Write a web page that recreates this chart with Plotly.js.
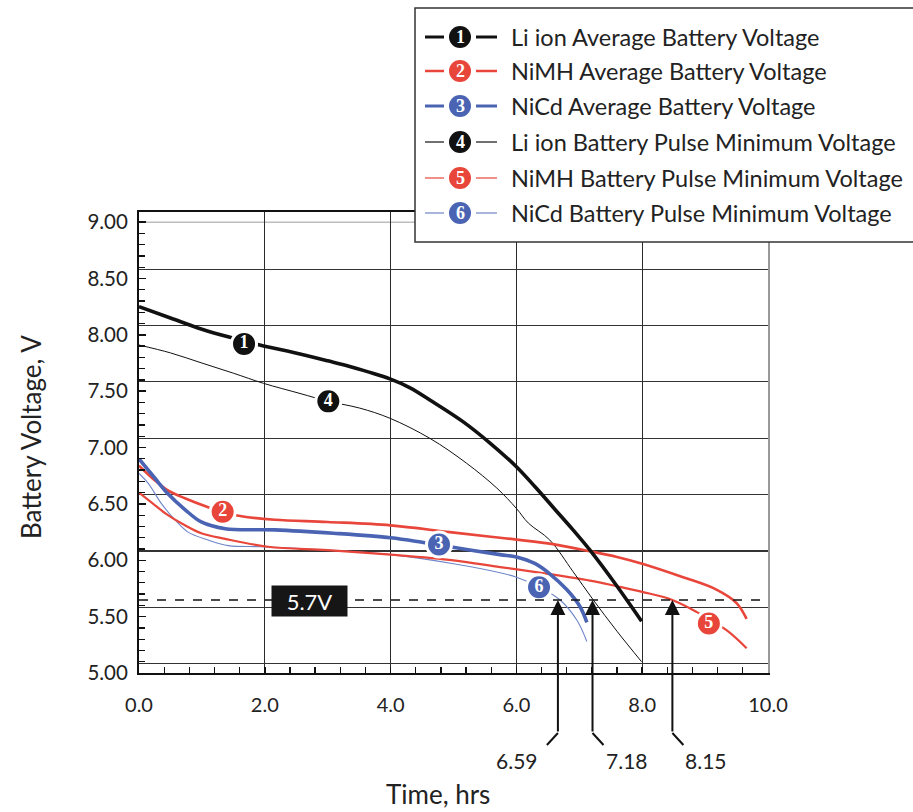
<!DOCTYPE html>
<html><head><meta charset="utf-8">
<script src="https://cdn.plot.ly/plotly-3.0.1.min.js"></script>
<style>html,body{margin:0;padding:0;background:#fff;}#chart{width:913px;height:812px;}</style>
</head><body><div id="chart"></div>
<script>
// ---------- data (hours, volts) ----------
const seriesNames = [
  'Li ion Average Battery Voltage',
  'NiMH Average Battery Voltage',
  'NiCd Average Battery Voltage',
  'Li ion Battery Pulse Minimum Voltage',
  'NiMH Battery Pulse Minimum Voltage',
  'NiCd Battery Pulse Minimum Voltage'
];
const liAvgT = [0, 0.5, 1.0, 1.5, 1.92, 2.56, 3.0, 3.35, 3.99, 4.31, 4.63, 5.15, 5.58, 6.0, 6.3, 6.6, 6.9, 7.17, 7.6, 7.99];
const liAvgV = [8.25, 8.15, 8.05, 7.97, 7.91, 7.83, 7.77, 7.72, 7.61, 7.53, 7.42, 7.23, 7.04, 6.83, 6.65, 6.46, 6.27, 6.09, 5.77, 5.46];
const nimhAvgT = [0, 0.25, 0.46, 0.73, 1.1, 1.32, 1.63, 2.16, 3.0, 4.0, 4.94, 5.74, 6.5, 7.17, 7.6, 8.0, 8.65, 9.18, 9.5, 9.66];
const nimhAvgV = [6.84, 6.71, 6.62, 6.55, 6.47, 6.43, 6.39, 6.36, 6.34, 6.31, 6.25, 6.20, 6.15, 6.08, 6.03, 5.97, 5.85, 5.74, 5.62, 5.48];
const nicdAvgT = [0, 0.25, 0.46, 0.73, 0.99, 1.37, 2.16, 3.09, 4.0, 4.5, 4.94, 5.74, 6.0, 6.3, 6.53, 6.8, 7.01, 7.12];
const nicdAvgV = [6.90, 6.73, 6.59, 6.45, 6.34, 6.28, 6.27, 6.24, 6.20, 6.16, 6.12, 6.05, 6.03, 5.97, 5.88, 5.74, 5.59, 5.45];
const liPulseT = [0, 0.5, 1.0, 1.5, 1.98, 2.56, 3.01, 3.51, 3.99, 4.63, 5.21, 5.69, 6.0, 6.19, 6.53, 6.9, 7.22, 7.6, 7.99];
const liPulseV = [7.91, 7.84, 7.75, 7.66, 7.57, 7.48, 7.41, 7.35, 7.26, 7.08, 6.86, 6.64, 6.46, 6.33, 6.18, 5.90, 5.65, 5.37, 5.10];
const nimhPulseT = [0, 0.25, 0.46, 0.73, 0.99, 1.37, 2.05, 3.0, 4.0, 5.0, 5.74, 6.5, 7.17, 7.6, 8.0, 8.47, 8.87, 9.34, 9.66];
const nimhPulseV = [6.60, 6.49, 6.40, 6.31, 6.24, 6.19, 6.12, 6.09, 6.05, 6.00, 5.94, 5.88, 5.82, 5.77, 5.72, 5.65, 5.54, 5.38, 5.22];
const nicdPulseT = [0, 0.15, 0.36, 0.57, 0.78, 1.1, 1.42, 1.95, 3.0, 4.0, 5.0, 5.74, 6.0, 6.3, 6.69, 6.96, 7.12];
const nicdPulseV = [6.77, 6.68, 6.50, 6.36, 6.25, 6.18, 6.13, 6.12, 6.09, 6.05, 5.97, 5.89, 5.85, 5.78, 5.65, 5.47, 5.28];

const labelNums = ['1', '2', '3', '4', '5', '6'];
const labelT = [1.67, 1.33, 4.77, 3.01, 9.06, 6.36];
const labelV = [7.92, 6.43, 6.14, 7.41, 5.44, 5.76];

const cutoffV = 5.647;
const cutoffText = '5.7V';
const arrowT = [6.66, 7.21, 8.48];
const arrowLabels = ['6.59', '7.18', '8.15'];

// ---------- styling ----------
const BLACK = '#111111', RED = '#e8463a', BLUE = '#4a64b3', LBLUE = '#6f86c9';
const seriesColor = [BLACK, RED, BLUE, BLACK, RED, LBLUE];
const markerColor = [BLACK, RED, BLUE, BLACK, RED, BLUE];
const seriesWidth = [3.6, 2.6, 3.6, 1.0, 2.2, 1.1];
const legendWidth = [3, 2.5, 3, 1.2, 1.2, 1.2];
const FONT = 'Lato, "Open Sans", sans-serif';
const NUMFONT = '"Liberation Serif", serif';

const W = 913, H = 812, L = 139, R = 768, T = 212, B = 673;
const px = xp => (xp - L) / (R - L);
const py = yp => (B - yp) / (B - T);
const hrPerPx = 10 / (R - L);

const seriesT = [liAvgT, nimhAvgT, nicdAvgT, liPulseT, nimhPulseT, nicdPulseT];
const seriesV = [liAvgV, nimhAvgV, nicdAvgV, liPulseV, nimhPulseV, nicdPulseV];

const traces = [];
[5, 4, 3, 1, 2, 0].forEach(i => {
  traces.push({
    type: 'scatter', mode: 'lines', name: seriesNames[i],
    x: seriesT[i], y: seriesV[i],
    line: {color: seriesColor[i], width: seriesWidth[i], shape: 'spline', smoothing: 1},
    hoverinfo: 'skip', showlegend: false
  });
});
traces.push({
  type: 'scatter', mode: 'markers+text', x: labelT, y: labelV, text: labelNums,
  textposition: 'middle center',
  textfont: {color: '#ffffff', size: 18, family: NUMFONT, weight: 'bold'},
  marker: {size: 25, color: labelNums.map((n, i) => markerColor[i]), line: {color: '#ffffff', width: 3}},
  hoverinfo: 'skip', showlegend: false, cliponaxis: false
});
traces.push({type: 'scatter', x: [], y: [], yaxis: 'y2', showlegend: false, hoverinfo: 'skip'});

const shapes = [
  {type: 'line', xref: 'paper', x0: 0, x1: 1, yref: 'y', y0: 9.0, y1: 9.0, line: {color: '#bdbdbd', width: 1.5}, layer: 'below'},
  {type: 'line', xref: 'paper', x0: 0, x1: 1, yref: 'y', y0: cutoffV, y1: cutoffV, line: {color: BLACK, width: 1.6, dash: 'dash'}, layer: 'above'}
];
const annotations = [];

annotations.push({x: 2.716, y: cutoffV - 0.006, xref: 'x', yref: 'y', xanchor: 'center', yanchor: 'middle',
  text: cutoffText, showarrow: false,
  bgcolor: '#161616', font: {color: '#ffffff', size: 22, family: FONT}, width: 71, height: 26, borderpad: 2});

const arrowDir = [-1, 1, 1];
const labelOffPx = [-41, 34, 34];
arrowT.forEach((t, i) => {
  annotations.push({x: t, y: cutoffV, xref: 'x', yref: 'y', ax: 0, ay: 133, text: '', showarrow: true,
    arrowhead: 2, arrowsize: 1.5, arrowwidth: 2, arrowcolor: BLACK});
  shapes.push({type: 'line', xref: 'x', yref: 'paper', x0: t, y0: py(733), x1: t + arrowDir[i] * 11 * hrPerPx, y1: py(745),
    line: {color: BLACK, width: 2}});
  annotations.push({x: t + labelOffPx[i] * hrPerPx, y: py(760), xref: 'x', yref: 'paper', xanchor: 'center', yanchor: 'middle',
    text: arrowLabels[i], showarrow: false, font: {size: 21, color: '#222', family: FONT}});
});

annotations.push({x: px(31), y: py(437), xref: 'paper', yref: 'paper', xanchor: 'center', yanchor: 'middle',
  text: 'Battery Voltage, V', textangle: -90, showarrow: false, font: {size: 26, color: '#222', family: FONT}});
annotations.push({x: px(438), y: py(794), xref: 'paper', yref: 'paper', xanchor: 'center', yanchor: 'middle',
  text: 'Time, hrs', showarrow: false, font: {size: 26, color: '#222', family: FONT}});

// legend box
shapes.push({type: 'rect', xref: 'paper', yref: 'paper', x0: px(415), x1: px(916), y0: py(242), y1: py(8),
  fillcolor: '#ffffff', line: {color: '#333', width: 1.5}, layer: 'above'});
const rowY = [37, 71, 106, 142, 178, 213];
seriesNames.forEach((name, i) => {
  const yy = py(rowY[i]);
  shapes.push({type: 'line', xref: 'paper', yref: 'paper', x0: px(425), x1: px(444), y0: yy, y1: yy,
    line: {color: seriesColor[i], width: legendWidth[i]}, layer: 'above'});
  shapes.push({type: 'line', xref: 'paper', yref: 'paper', x0: px(476), x1: px(497), y0: yy, y1: yy,
    line: {color: seriesColor[i], width: legendWidth[i]}, layer: 'above'});
  shapes.push({type: 'circle', xref: 'paper', yref: 'paper', xsizemode: 'pixel', ysizemode: 'pixel',
    xanchor: px(460), yanchor: yy, x0: -11, x1: 11, y0: -11, y1: 11,
    fillcolor: markerColor[i], line: {width: 0}, layer: 'above'});
  annotations.push({x: px(460), y: yy, xref: 'paper', yref: 'paper', xanchor: 'center', yanchor: 'middle',
    text: labelNums[i], showarrow: false, font: {size: 18, color: '#fff', family: NUMFONT, weight: 'bold'}});
  annotations.push({x: px(509), y: yy, xref: 'paper', yref: 'paper', xanchor: 'left', yanchor: 'middle',
    text: name, showarrow: false, font: {size: 23.5, color: '#222', family: FONT}});
});

const layout = {
  width: W, height: H,
  margin: {l: L, r: W - R, t: T, b: H - B, pad: 0},
  paper_bgcolor: '#fff', plot_bgcolor: '#fff',
  showlegend: false,
  font: {family: FONT, color: '#222'},
  xaxis: {range: [0, 10], tick0: 0, dtick: 2, tickformat: '.1f', ticks: 'inside', ticklen: 6, tickwidth: 1.5, tickcolor: BLACK,
    minor: {dtick: 0.4, ticks: 'inside', ticklen: 6, tickwidth: 1.3, tickcolor: BLACK, showgrid: false},
    showgrid: true, gridcolor: '#2a2a2a', gridwidth: 1.2, showline: true, mirror: true, linecolor: BLACK, linewidth: 2, zeroline: false,
    ticklabelstandoff: 13, tickfont: {size: 20, color: '#222', family: FONT}, fixedrange: true},
  yaxis: {range: [5, 9.09], tick0: 5, dtick: 0.5, tickformat: '.2f', ticks: 'inside', ticklen: 7, tickwidth: 1.5, tickcolor: BLACK,
    minor: {dtick: 0.1, ticks: 'inside', ticklen: 6, tickwidth: 1.3, tickcolor: BLACK, showgrid: false},
    showgrid: false, showline: true, linecolor: BLACK, linewidth: 2, zeroline: false,
    ticklabelstandoff: 5, tickfont: {size: 20.5, color: '#222', family: FONT}, fixedrange: true},
  yaxis2: {overlaying: 'y', anchor: 'x', side: 'right', range: [5, 9.09], tick0: 5.083, dtick: 0.5,
    showticklabels: false, ticks: '', showgrid: true, gridcolor: '#333333', gridwidth: 1.2,
    showline: true, linecolor: '#999', linewidth: 1.5, zeroline: false, fixedrange: true},
  shapes: shapes,
  annotations: annotations
};

Plotly.newPlot('chart', traces, layout, {staticPlot: true, displayModeBar: false});
</script></body></html>
